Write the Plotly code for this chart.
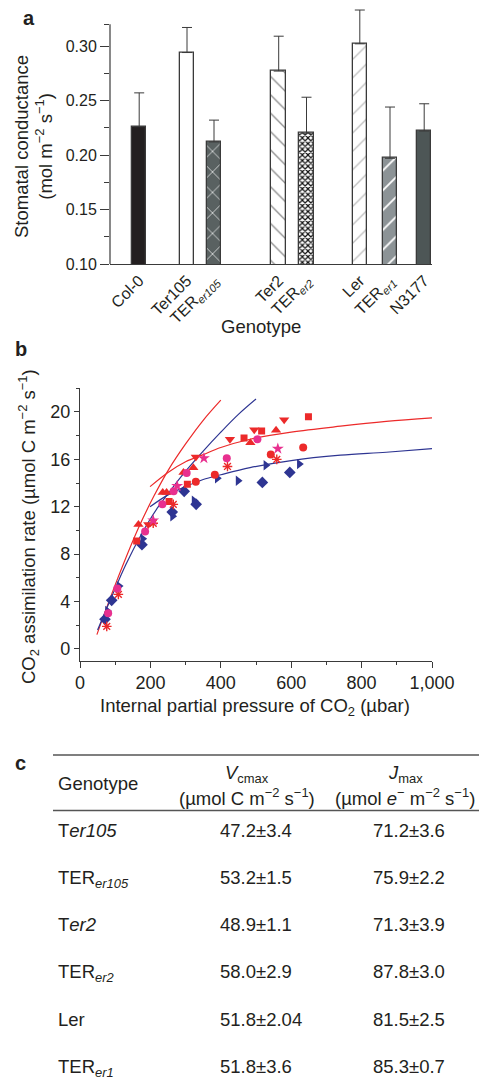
import plotly.graph_objects as go

W, H = 479, 1082
FONT = "Liberation Sans, Arial, Helvetica, sans-serif"
INK = "#231f20"
AXC = "#3a3a3a"
RED = "#ec2a2a"
MAG = "#e8308f"
BLUE = "#2e3592"

# ---------------- Panel a data ----------------
genotype_labels = ["Col-0", "Ter105", "TER<sub><i>er105</i></sub>", "Ter2",
                   "TER<sub><i>er2</i></sub>", "Ler", "TER<sub><i>er1</i></sub>", "N3177"]
conductance = [0.226, 0.294, 0.212, 0.277, 0.220, 0.302, 0.197, 0.222]
conductance_err = [0.031, 0.023, 0.020, 0.032, 0.033, 0.031, 0.047, 0.025]

# ---------------- Panel b data ----------------
red_square_ci = [161, 253, 305, 466, 516, 649]
red_square_a = [9.1, 12.45, 13.9, 17.8, 18.4, 19.6]
red_tri_up_ci = [166, 235, 246, 294, 322, 484, 557]
red_tri_up_a = [10.5, 13.2, 13.2, 14.9, 15.3, 17.4, 18.45]
red_tri_down_ci = [194, 329, 426, 495, 580]
red_tri_down_a = [10.5, 16.2, 17.7, 18.5, 19.35]
red_circle_ci = [329, 383, 542, 634]
red_circle_a = [14.1, 14.7, 16.4, 17.0]
red_asterisk_ci = [76, 109, 208, 265, 419, 559]
red_asterisk_a = [1.9, 4.6, 10.6, 12.2, 15.4, 16.0]
mag_circle_ci = [80, 106, 185, 234, 266, 303, 417, 504]
mag_circle_a = [3.0, 5.1, 9.9, 12.2, 13.3, 14.85, 16.1, 17.7]
mag_star_ci = [208, 276, 352, 562]
mag_star_a = [10.85, 13.75, 16.1, 16.9]
blue_diamond_ci = [71, 90, 176, 262, 296, 330, 518, 596]
blue_diamond_a = [2.5, 4.1, 8.8, 11.55, 13.3, 12.2, 14.05, 14.9]
blue_tri_right_ci = [78, 111, 178, 263, 324, 390, 449, 528, 623]
blue_tri_right_a = [3.2, 5.3, 9.3, 11.2, 12.5, 14.4, 14.2, 15.5, 15.6]

red_rubisco_ci = [48, 100, 166, 210, 253, 300, 350, 400]
red_rubisco_a = [1.2, 5.4, 10.2, 12.9, 15.2, 17.3, 19.3, 21.0]
blue_rubisco_ci = [50, 90, 130, 175, 220, 250, 300, 350, 400, 450, 500]
blue_rubisco_a = [1.6, 4.4, 7.1, 9.7, 11.9, 13.1, 15.0, 16.7, 18.3, 19.8, 21.1]
rubp_ci = [199, 250, 300, 350, 400, 483, 600, 740, 870, 1000]
red_rubp_a = [13.7, 14.9, 15.8, 16.4, 17.0, 17.7, 18.3, 18.8, 19.2, 19.5]
blue_rubp_a = [12.0, 13.0, 13.7, 14.3, 14.7, 15.3, 15.9, 16.35, 16.6, 16.9]

# ---------------- Panel c data ----------------
table_genotypes = ["T<i>er105</i>", "TER<sub><i>er105</i></sub>", "T<i>er2</i>",
                   "TER<sub><i>er2</i></sub>", "Ler", "TER<sub><i>er1</i></sub>"]
vcmax_values = ["47.2±3.4", "53.2±1.5", "48.9±1.1", "58.0±2.9", "51.8±2.04", "51.8±3.6"]
jmax_values = ["71.2±3.6", "75.9±2.2", "71.3±3.9", "87.8±3.0", "81.5±2.5", "85.3±0.7"]


def px(x):
    return x / W


def py(y):
    return 1 - y / H


bar_pos = [29.2, 77, 104, 168.7, 196.5, 249.8, 280, 314.2]
bar_fill = ["#231f20", "#ffffff", "#596161", "#ffffff", "#ffffff", "#ffffff", "#8c9396", "#4d5656"]
pat_shape = ["", "", "x", "\\", "x", "/", "/", ""]
pat_fg = ["#231f20", "#ffffff", "#ffffff", "#8a8a8a", "#111111", "#bdbdbd", "#ffffff", "#4d5656"]
pat_size = [8, 8, 14.5, 13, 4, 13, 14, 8]
pat_sol = [0.3, 0.3, 0.09, 0.1, 0.5, 0.1, 0.13, 0.3]

fig = go.Figure()
for i in range(len(conductance)):
    marker = dict(color=bar_fill[i], line=dict(color=AXC, width=1.3))
    if pat_shape[i]:
        marker["pattern"] = dict(shape=pat_shape[i], fgcolor=pat_fg[i], bgcolor=bar_fill[i],
                                 size=pat_size[i], solidity=pat_sol[i], fillmode="replace")
    fig.add_trace(go.Bar(
        x=[bar_pos[i]], y=[conductance[i]], width=14.5, xaxis="x", yaxis="y",
        marker=marker,
        error_y=dict(type="data", symmetric=False, array=[conductance_err[i]],
                     arrayminus=[0], color=AXC, thickness=1, width=5),
        showlegend=False, hoverinfo="skip"))


def mk(ci, a, color, symbol, size=8, line=None):
    m = dict(color=color, symbol=symbol, size=size)
    if line:
        m["line"] = line
    fig.add_trace(go.Scatter(x=ci, y=a, mode="markers", marker=m, xaxis="x2", yaxis="y2",
                             showlegend=False, hoverinfo="skip"))


def ln(ci, a, color):
    fig.add_trace(go.Scatter(x=ci, y=a, mode="lines", line=dict(color=color, width=1.2, shape="spline"),
                             xaxis="x2", yaxis="y2", showlegend=False, hoverinfo="skip"))


ln(red_rubisco_ci, red_rubisco_a, RED)
ln(blue_rubisco_ci, blue_rubisco_a, BLUE)
ln(rubp_ci, red_rubp_a, RED)
ln(rubp_ci, blue_rubp_a, BLUE)

mk(blue_diamond_ci, blue_diamond_a, BLUE, "diamond", 9)
mk(blue_tri_right_ci, blue_tri_right_a, BLUE, "triangle-right", 9)
mk(red_square_ci, red_square_a, RED, "square", 7)
mk(red_tri_up_ci, red_tri_up_a, RED, "triangle-up", 9)
mk(red_tri_down_ci, red_tri_down_a, RED, "triangle-down", 9)
mk(red_circle_ci, red_circle_a, RED, "circle", 8)
mk(red_asterisk_ci, red_asterisk_a, RED, "asterisk-open", 8, dict(color=RED, width=1.4))
mk(mag_circle_ci, mag_circle_a, MAG, "circle", 8)
mk(mag_star_ci, mag_star_a, MAG, "star", 9)

a_top = 264 - (0.335 - 0.10) / 0.05 * 54.5
axis_common = dict(showgrid=False, zeroline=False, linecolor=AXC, tickcolor=AXC,
                   fixedrange=True, automargin=False)

fig.update_layout(
    width=W, height=H, margin=dict(l=0, r=0, t=0, b=0, autoexpand=False),
    paper_bgcolor="white", plot_bgcolor="rgba(0,0,0,0)",
    font=dict(family=FONT, color=INK),
    barmode="overlay", bargap=0,
    xaxis=dict(domain=[px(110), px(432.3)], range=[0, 322.3], anchor="y",
               showline=True, linewidth=1.2, ticks="",
               tickmode="array", tickvals=bar_pos, ticktext=genotype_labels,
               tickangle=-45, tickfont=dict(size=16, color=INK), **axis_common),
    yaxis=dict(domain=[py(264), py(a_top)], range=[0.10, 0.335], anchor="x",
               showline=False, ticks="outside", ticklen=9, tickwidth=1.1,
               tickmode="array", tickvals=[0.10, 0.15, 0.20, 0.25, 0.30],
               ticktext=["0.10", "0.15", "0.20", "0.25", "0.30"],
               tickfont=dict(size=16, color=INK),
               minor=dict(tickmode="array", tickvals=[0.125, 0.175, 0.225, 0.275, 0.32],
                          ticks="outside", ticklen=5, tickwidth=1.1, tickcolor=AXC),
               **axis_common),
    xaxis2=dict(domain=[px(80), px(432)], range=[0, 1000], anchor="y2",
                showline=True, linewidth=1.2, ticks="outside", ticklen=6, tickwidth=1.1,
                tick0=0, dtick=200, tickformat=",d", tickfont=dict(size=18, color=INK),
                minor=dict(dtick=100, ticks="outside", ticklen=3, tickwidth=1.1, tickcolor=AXC),
                **axis_common),
    yaxis2=dict(domain=[py(660.7), py(388.3)], range=[-1, 22], anchor="x2",
                showline=True, linewidth=1.2, ticks="outside", ticklen=5, tickwidth=1.1,
                tick0=0, dtick=4, tickfont=dict(size=18, color=INK),
                minor=dict(dtick=2, tick0=0, ticks="outside", ticklen=3, tickwidth=1.1, tickcolor=AXC),
                **axis_common),
)

shapes = [
    dict(type="line", xref="paper", yref="y", x0=px(110), x1=px(110), y0=0.10, y1=0.32,
         line=dict(color=AXC, width=1.2)),
    dict(type="line", xref="paper", yref="paper", x0=px(53), x1=px(479), y0=py(755), y1=py(755),
         line=dict(color="#555555", width=1.5)),
    dict(type="line", xref="paper", yref="paper", x0=px(53), x1=px(479), y0=py(810.5), y1=py(810.5),
         line=dict(color="#555555", width=1.5)),
]
fig.update_layout(shapes=shapes)

ann = []


def text(x, y, s, size=18.5, xanchor="center", yanchor="middle", angle=0, bold=False):
    if bold:
        s = "<b>" + s + "</b>"
    ann.append(dict(x=px(x), y=py(y), xref="paper", yref="paper", text=s, showarrow=False,
                    xanchor=xanchor, yanchor=yanchor, textangle=angle, borderpad=0,
                    font=dict(size=size, family=FONT, color=INK)))


text(29, 18, "a", size=20, bold=True)
text(21, 349, "b", size=20, bold=True)
text(20, 763, "c", size=20, bold=True)

text(33, 147, "Stomatal conductance<br>(mol m<sup>−2</sup> s<sup>−1</sup>)", size=18.5, angle=-90)
text(261, 327, "Genotype", size=18.5)

text(255, 707, "Internal partial pressure of CO<sub>2</sub> (µbar)", size=18.5)
text(28, 527, "CO<sub>2</sub> assimilation rate (µmol C m<sup>−2</sup> s<sup>−1</sup>)", size=18.5, angle=-90)

text(57, 783, "Genotype", xanchor="left")
text(247, 774, "<i>V</i><sub>cmax</sub>")
text(247, 797, "(µmol C m<sup>−2</sup> s<sup>−1</sup>)")
text(405, 774, "<i>J</i><sub>max</sub>")
text(405, 797, "(µmol <i>e</i><sup>−</sup> m<sup>−2</sup> s<sup>−1</sup>)")
for i, (g, v, j) in enumerate(zip(table_genotypes, vcmax_values, jmax_values)):
    yc = 830.5 + i * 47.3
    text(57, yc - 12, g, xanchor="left", yanchor="top")
    text(219, yc - 12, v, xanchor="left", yanchor="top")
    text(371.7, yc - 12, j, xanchor="left", yanchor="top")

fig.update_layout(annotations=ann)

fig.write_html("out.html", config={"displayModeBar": False},
               post_script="document.body.style.margin='0px';document.body.style.overflow='hidden';")
